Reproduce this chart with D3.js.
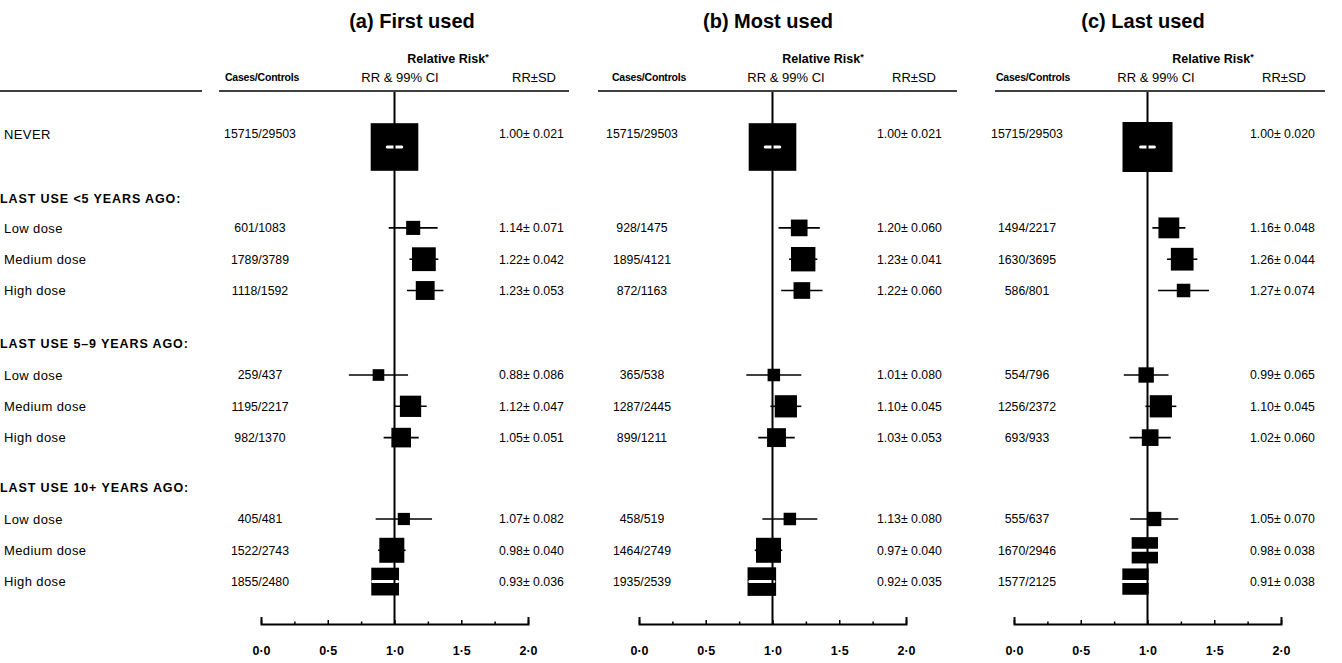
<!DOCTYPE html>
<html>
<head>
<meta charset="utf-8">
<script src="https://cdn.jsdelivr.net/npm/d3@7"></script>
<style>
  html, body { margin: 0; padding: 0; background: #fff; }
  svg { display: block; font-family: "Liberation Sans", Arial, Helvetica, sans-serif; }
</style>
</head>
<body>
<svg id="chart" width="1342" height="663"></svg>
<script>
// ---------------- DATA ----------------
const rowLabels = ["NEVER", "LAST USE <5 YEARS AGO:", "Low dose", "Medium dose", "High dose",
  "LAST USE 5–9 YEARS AGO:", "Low dose", "Medium dose", "High dose",
  "LAST USE 10+ YEARS AGO:", "Low dose", "Medium dose", "High dose"];
const rowIsHeader = [false, true, false, false, false, true, false, false, false, true, false, false, false];

const panelTitles = ["(a) First used", "(b) Most used", "(c) Last used"];

const casesA = ["15715/29503", "601/1083", "1789/3789", "1118/1592", "259/437", "1195/2217", "982/1370", "405/481", "1522/2743", "1855/2480"];
const rrA = [1.00, 1.14, 1.22, 1.23, 0.88, 1.12, 1.05, 1.07, 0.98, 0.93];
const sdA = [0.021, 0.071, 0.042, 0.053, 0.086, 0.047, 0.051, 0.082, 0.040, 0.036];

const casesB = ["15715/29503", "928/1475", "1895/4121", "872/1163", "365/538", "1287/2445", "899/1211", "458/519", "1464/2749", "1935/2539"];
const rrB = [1.00, 1.20, 1.23, 1.22, 1.01, 1.10, 1.03, 1.13, 0.97, 0.92];
const sdB = [0.021, 0.060, 0.041, 0.060, 0.080, 0.045, 0.053, 0.080, 0.040, 0.035];

const casesC = ["15715/29503", "1494/2217", "1630/3695", "586/801", "554/796", "1256/2372", "693/933", "555/637", "1670/2946", "1577/2125"];
const rrC = [1.00, 1.16, 1.26, 1.27, 0.99, 1.10, 1.02, 1.05, 0.98, 0.91];
const sdC = [0.020, 0.048, 0.044, 0.074, 0.065, 0.045, 0.060, 0.070, 0.038, 0.038];

const axisDomain = [0, 2];
const majorTicks = [0, 0.5, 1, 1.5, 2];
const minorTicks = [0.25, 0.75, 1.25, 1.75];

// ---------------- LAYOUT ----------------
const svg = d3.select("#chart");
const slots = [0, 2.05, 3, 4, 5, 6.7, 7.7, 8.7, 9.7, 11.3, 12.3, 13.3, 14.3];
const yScale = d3.scaleLinear().domain([0, 1]).range([134, 134 + 31.3]);
const axisY = 624;
const lineTop = 92;
const z = 2.576; // 99% CI multiplier

const layout = [
  { range: [261, 528], title: 412, cases: 260, casesHdr: 262, ci: 400, rel: 448, sdHdr: 534, sdX: 499, uline: [219, 569] },
  { range: [639, 906], title: 768, cases: 642, casesHdr: 649, ci: 786, rel: 823, sdHdr: 914, sdX: 877, uline: [598, 957] },
  { range: [1014, 1281], title: 1143, cases: 1027, casesHdr: 1033, ci: 1156, rel: 1213, sdHdr: 1284, sdX: 1250, uline: [995, 1325] }
];
const panelData = [
  { cases: casesA, rr: rrA, sd: sdA },
  { cases: casesB, rr: rrB, sd: sdB },
  { cases: casesC, rr: rrC, sd: sdC }
];

const dataRowIdx = rowLabels.map((d, i) => i).filter(i => !rowIsHeader[i]);

svg.append("line").attr("x1", 0).attr("x2", 202).attr("y1", 91).attr("y2", 91)
  .attr("stroke", "#000").attr("stroke-width", 1.6);

svg.selectAll("text.rowlabel").data(rowLabels).join("text")
  .attr("class", "rowlabel")
  .attr("x", (d, i) => rowIsHeader[i] ? 0 : 4)
  .attr("y", (d, i) => yScale(slots[i]))
  .attr("dy", "0.36em")
  .attr("font-size", (d, i) => rowIsHeader[i] ? 12.5 : 13)
  .attr("font-weight", (d, i) => rowIsHeader[i] ? "bold" : "normal")
  .attr("letter-spacing", (d, i) => rowIsHeader[i] ? 0.9 : 0.4)
  .text(d => d);

const boxK = 1.0;

panelData.forEach((pd, p) => {
  const L = layout[p];
  const g = svg.append("g");
  const x = d3.scaleLinear().domain(axisDomain).range(L.range);

  g.append("text").attr("x", L.title).attr("y", 21).attr("dy", "0.36em")
    .attr("text-anchor", "middle").attr("font-size", 20).attr("font-weight", "bold")
    .text(panelTitles[p]);

  const rel = g.append("text").attr("x", L.rel).attr("y", 58).attr("dy", "0.36em")
    .attr("text-anchor", "middle").attr("font-size", 12.5).attr("font-weight", "bold");
  rel.append("tspan").text("Relative Risk");
  rel.append("tspan").attr("font-size", 9).attr("dy", "-0.3em").text("*");

  g.append("text").attr("x", L.casesHdr).attr("y", 77).attr("dy", "0.36em")
    .attr("text-anchor", "middle").attr("font-size", 10.5).attr("font-weight", "bold")
    .attr("letter-spacing", -0.2)
    .text("Cases/Controls");
  g.append("text").attr("x", L.ci).attr("y", 77).attr("dy", "0.36em")
    .attr("text-anchor", "middle").attr("font-size", 13)
    .text("RR & 99% CI");
  g.append("text").attr("x", L.sdHdr).attr("y", 77).attr("dy", "0.36em")
    .attr("text-anchor", "middle").attr("font-size", 13)
    .text("RR±SD");

  g.append("line").attr("x1", L.uline[0]).attr("x2", L.uline[1]).attr("y1", 91).attr("y2", 91)
    .attr("stroke", "#000").attr("stroke-width", 1.6);

  const rows = pd.rr.map((r, k) => ({
    rr: r, sd: pd.sd[k], cases: pd.cases[k], row: dataRowIdx[k], never: k === 0
  }));
  const textY = d => yScale(slots[d.row]);
  const markY = d => yScale(slots[d.row]) + (d.never ? 13 : 0);
  const side = d => boxK / d.sd;
  const ciHalf = d => x(d.rr + z * d.sd) - x(d.rr);

  g.selectAll("text.cases").data(rows).join("text")
    .attr("class", "cases")
    .attr("x", L.cases).attr("y", textY).attr("dy", "0.36em")
    .attr("text-anchor", "middle").attr("font-size", 12.3)
    .text(d => d.cases);

  g.selectAll("text.rrsd").data(rows).join("text")
    .attr("class", "rrsd")
    .attr("x", L.sdX).attr("y", textY).attr("dy", "0.36em")
    .attr("font-size", 12.3)
    .text(d => d3.format(".2f")(d.rr) + "± " + d3.format(".3f")(d.sd));

  g.selectAll("line.ci").data(rows).join("line")
    .attr("class", "ci")
    .attr("x1", d => x(d.rr - z * d.sd)).attr("x2", d => x(d.rr + z * d.sd))
    .attr("y1", markY).attr("y2", markY)
    .attr("stroke", "#000").attr("stroke-width", 1.6);

  g.selectAll("rect.box").data(rows).join("rect")
    .attr("class", "box")
    .attr("x", d => x(d.rr) - side(d) / 2)
    .attr("y", d => markY(d) - side(d) / 2)
    .attr("width", side).attr("height", side)
    .attr("fill", "#000");

  // CI drawn in white only when it lies inside the box
  g.selectAll("line.ciw").data(rows.filter(d => ciHalf(d) < side(d) / 2)).join("line")
    .attr("class", "ciw")
    .attr("x1", d => x(d.rr - z * d.sd)).attr("x2", d => x(d.rr + z * d.sd))
    .attr("y1", markY).attr("y2", markY)
    .attr("stroke", "#fff").attr("stroke-width", 3)
    .attr("stroke-linecap", "round");

  g.append("line").attr("x1", x(1)).attr("x2", x(1)).attr("y1", lineTop).attr("y2", axisY)
    .attr("stroke", "#000").attr("stroke-width", 2);

  const ax = g.append("g").attr("transform", `translate(0,${axisY})`)
    .call(d3.axisBottom(x).tickValues(majorTicks).tickSizeInner(-4).tickSizeOuter(-7)
      .tickPadding(22).tickFormat(d => d3.format(".1f")(d).replace(".", "·")));
  ax.select(".domain").attr("stroke-width", 2);
  ax.selectAll(".tick line").attr("stroke-width", 1.5);
  ax.selectAll(".tick text").attr("font-size", 12.5).attr("font-weight", "bold")
    .attr("font-family", "\"Liberation Sans\", Arial, sans-serif");
  const axm = g.append("g").attr("transform", `translate(0,${axisY})`)
    .call(d3.axisBottom(x).tickValues(minorTicks).tickSizeInner(-2.5).tickSizeOuter(0).tickFormat(""));
  axm.select(".domain").remove();
  axm.selectAll(".tick line").attr("stroke-width", 1.5);
});
</script>
</body>
</html>
